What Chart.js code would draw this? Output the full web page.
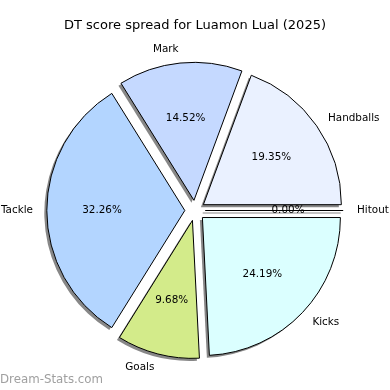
<!DOCTYPE html>
<html>
<head>
<meta charset="utf-8">
<script src="https://cdn.jsdelivr.net/npm/chart.js@4.4.1/dist/chart.umd.min.js"></script>
<style>
  html, body { margin: 0; padding: 0; background: #ffffff; }
  #wrap { width: 390px; height: 390px; position: relative; }
</style>
</head>
<body>
<div id="wrap"><canvas id="c" width="390" height="390"></canvas></div>
<script>
// ---- data (Chart.js draws clockwise from the east, so listed in that order) ----
const categories = ['Hitout', 'Kicks', 'Goals', 'Tackle', 'Mark', 'Handballs'];
const counts     = [0, 15, 6, 20, 9, 12];
const sliceColors = ['#ffe4e4', '#dbffff', '#d3eb8a', '#b3d5ff', '#c5d9ff', '#eaf1ff'];
const chartTitle = 'DT score spread for Luamon Lual (2025)';
const watermark  = 'Dream-Stats.com';

// ---- style ----
const RADIUS = 138;
const EXPLODE = 10.2;        // px each slice is pushed out
const SHADOW_DX = -2.5, SHADOW_DY = 2.5;
const SHADOW_COLOR = 'rgba(0,0,0,0.47)';
const FONT = '"DejaVu Sans", Verdana, sans-serif';

const total = counts.reduce((a, b) => a + b, 0);

const piePlugin = {
  id: 'explodedPie',
  beforeDatasetDraw(chart, args) {
    const ctx = chart.ctx;
    const els = args.meta.data;
    // shadows first (below every wedge)
    ctx.save();
    ctx.fillStyle = SHADOW_COLOR;
    ctx.strokeStyle = SHADOW_COLOR;
    ctx.lineWidth = 1;
    els.forEach(el => {
      const p = el.getProps(['x', 'y', 'startAngle', 'endAngle', 'outerRadius'], true);
      const mid = (p.startAngle + p.endAngle) / 2;
      const cx = p.x + Math.cos(mid) * EXPLODE + SHADOW_DX;
      const cy = p.y + Math.sin(mid) * EXPLODE + SHADOW_DY;
      ctx.beginPath();
      ctx.moveTo(cx, cy);
      if (p.endAngle - p.startAngle > 0) {
        ctx.arc(cx, cy, p.outerRadius, p.startAngle, p.endAngle);
        ctx.closePath();
        ctx.fill();
      } else {
        ctx.lineTo(cx + Math.cos(mid) * p.outerRadius, cy + Math.sin(mid) * p.outerRadius);
        ctx.stroke();
      }
    });
    ctx.restore();
    // wedges
    els.forEach(el => {
      const p = el.getProps(['x', 'y', 'startAngle', 'endAngle', 'outerRadius'], true);
      const mid = (p.startAngle + p.endAngle) / 2;
      const dx = Math.cos(mid) * EXPLODE, dy = Math.sin(mid) * EXPLODE;
      if (p.endAngle - p.startAngle > 0) {
        ctx.save();
        ctx.translate(dx, dy);
        el.draw(ctx, chart.chartArea);
        ctx.restore();
      } else {
        ctx.save();
        ctx.strokeStyle = el.options.borderColor;
        ctx.lineWidth = el.options.borderWidth;
        ctx.beginPath();
        ctx.moveTo(p.x + dx, p.y + dy);
        ctx.lineTo(p.x + dx + Math.cos(mid) * p.outerRadius, p.y + dy + Math.sin(mid) * p.outerRadius);
        ctx.stroke();
        ctx.restore();
      }
    });
    return false;
  },
  afterDatasetsDraw(chart) {
    const ctx = chart.ctx;
    const els = chart.getDatasetMeta(0).data;
    ctx.save();
    ctx.fillStyle = '#000000';
    ctx.textBaseline = 'middle';
    ctx.font = '10.4px ' + FONT;
    els.forEach((el, i) => {
      const p = el.getProps(['x', 'y', 'startAngle', 'endAngle', 'outerRadius'], true);
      const mid = (p.startAngle + p.endAngle) / 2;
      const c = Math.cos(mid), s = Math.sin(mid);
      const cx = p.x + c * EXPLODE, cy = p.y + s * EXPLODE;
      // category label
      ctx.textAlign = c > 0 ? 'left' : 'right';
      ctx.fillText(categories[i], cx + c * p.outerRadius * 1.1, cy + s * p.outerRadius * 1.1);
      // percentage
      ctx.textAlign = 'center';
      const pct = (counts[i] / total * 100).toFixed(2) + '%';
      ctx.fillText(pct, cx + c * p.outerRadius * 0.6, cy + s * p.outerRadius * 0.6);
    });
    // title
    ctx.font = '13px ' + FONT;
    ctx.textAlign = 'center';
    ctx.fillText(chartTitle, 195, 26);
    // watermark
    ctx.fillStyle = '#a0a0a0';
    ctx.font = '11.8px ' + FONT;
    ctx.textAlign = 'left';
    ctx.fillText(watermark, 0, 380);
    ctx.restore();
  }
};

new Chart(document.getElementById('c'), {
  type: 'pie',
  data: {
    labels: categories,
    datasets: [{
      data: counts,
      backgroundColor: sliceColors,
      borderColor: '#000000',
      borderWidth: 1,
      borderAlign: 'center',
      offset: 0
    }]
  },
  options: {
    responsive: false,
    animation: false,
    devicePixelRatio: 1,
    rotation: 90,
    radius: RADIUS,
    layout: { padding: { top: 31, bottom: 0, left: 0, right: 0 } },
    plugins: {
      legend: { display: false },
      title: { display: false },
      tooltip: { enabled: false }
    }
  },
  plugins: [piePlugin]
});
</script>
</body>
</html>
